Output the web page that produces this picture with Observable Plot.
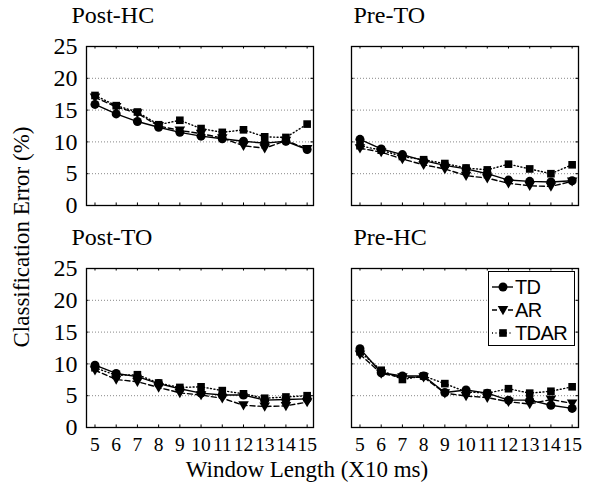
<!DOCTYPE html>
<html><head><meta charset="utf-8">
<script src="https://cdn.jsdelivr.net/npm/d3@7"></script>
<script src="https://cdn.jsdelivr.net/npm/@observablehq/plot@0.6"></script>
<style>
body{margin:0;background:#fff}
#wrap{position:relative;width:591px;height:489px;font-family:"Liberation Serif","Times New Roman",serif;color:#000}
.lab{position:absolute;white-space:nowrap;line-height:1}
</style></head><body>
<div id="wrap"></div>
<script>
const windows = [5, 6, 7, 8, 9, 10, 11, 12, 13, 14, 15];
const xTicks = [5, 6, 7, 8, 9, 10, 11, 12, 13, 14, 15];
const yTicks = [0, 5, 10, 15, 20, 25];
const gridValues = [5, 10, 15, 20];
const panelNames = ["Post-HC", "Pre-TO", "Post-TO", "Pre-HC"];
const panelCols = [0, 1, 0, 1];
const panelRows = [0, 0, 1, 1];
const seriesNames = ["TD", "AR", "TDAR"];

const postHC_TD   = [15.9, 14.4, 13.2, 12.3, 11.5, 10.9, 10.5, 10.1, 9.8, 10.1, 8.8];
const postHC_AR   = [17.0, 15.5, 14.5, 12.5, 11.8, 11.3, 10.6, 9.4, 9.0, 10.2, 8.9];
const postHC_TDAR = [17.3, 15.7, 14.7, 12.7, 13.4, 12.1, 11.5, 11.9, 10.8, 10.7, 12.8];

const preTO_TD   = [10.4, 8.9, 8.0, 7.05, 6.3, 5.75, 5.0, 4.0, 3.8, 3.7, 3.9];
const preTO_AR   = [9.0, 8.4, 7.3, 6.4, 5.75, 4.7, 4.3, 3.5, 3.1, 3.0, 3.8];
const preTO_TDAR = [9.4, 8.7, 7.7, 7.2, 6.6, 5.9, 5.6, 6.5, 5.75, 5.0, 6.4];

const postTO_TD   = [9.8, 8.5, 8.0, 6.9, 6.1, 5.4, 5.1, 5.1, 4.3, 4.4, 4.5];
const postTO_AR   = [9.0, 7.55, 7.2, 6.3, 5.45, 5.1, 4.6, 3.5, 3.3, 3.4, 4.0];
const postTO_TDAR = [9.4, 8.2, 8.3, 7.0, 6.3, 6.4, 5.8, 5.3, 4.6, 4.8, 5.0];

const preHC_TD   = [12.4, 8.6, 8.1, 8.1, 5.5, 5.9, 5.4, 4.3, 4.3, 3.5, 3.0];
const preHC_AR   = [11.5, 8.5, 7.9, 7.9, 5.4, 4.95, 4.7, 4.05, 3.7, 4.4, 3.8];
const preHC_TDAR = [11.9, 9.0, 7.55, 8.1, 6.9, 5.6, 5.4, 6.1, 5.4, 5.7, 6.4];

const panelSeries = [
  [postHC_TD, postHC_AR, postHC_TDAR],
  [preTO_TD, preTO_AR, preTO_TDAR],
  [postTO_TD, postTO_AR, postTO_TDAR],
  [preHC_TD, preHC_AR, preHC_TDAR]
];

// long table built from the arrays
const rows = [];
panelNames.forEach((p, pi) => {
  seriesNames.forEach((s, si) => {
    windows.forEach((w, wi) => {
      rows.push({panel: p, col: panelCols[pi], row: panelRows[pi], series: s, x: w, y: panelSeries[pi][si][wi]});
    });
  });
});
const panels = panelNames.map((p, i) => ({name: p, col: panelCols[i], row: panelRows[i]}));

const triDown = {
  draw(ctx, size) {
    const r = Math.sqrt(size / Math.PI);
    const hw = r * 1.15, top = -r * 0.85, bot = r * 1.15;
    ctx.moveTo(-hw, top); ctx.lineTo(hw, top); ctx.lineTo(0, bot); ctx.closePath();
  }
};

const style = {
  TD:   {dash: null,  symbol: "circle", r: 4.5},
  AR:   {dash: "5,3", symbol: triDown,  r: 4.6},
  TDAR: {dash: "1,2.5", symbol: "square", r: 4.3}
};

const serif = "Liberation Serif, Times New Roman, serif";
const seriesMarks = [];
["TDAR", "AR", "TD"].forEach(s => {
  const d = rows.filter(r => r.series === s);
  seriesMarks.push(Plot.line(d, {x: "x", y: "y", fx: "col", fy: "row", stroke: "black", strokeWidth: 1.4, strokeDasharray: style[s].dash}));
  seriesMarks.push(Plot.dot(d, {x: "x", y: "y", fx: "col", fy: "row", fill: "black", stroke: "none", symbol: style[s].symbol, r: style[s].r}));
});

const chart = Plot.plot({
  width: 591, height: 489,
  marginLeft: 86, marginRight: 12, marginTop: 45.5, marginBottom: 61.5,
  style: {fontFamily: serif, background: "white", color: "black", overflow: "visible"},
  fx: {domain: [0, 1], paddingInner: 0.143, paddingOuter: 0, axis: null},
  fy: {domain: [0, 1], paddingInner: 0.283, paddingOuter: 0, axis: null},
  x: {domain: [4.6, 15.3]},
  y: {domain: [0, 25]},
  marks: [
    Plot.ruleY(gridValues, {stroke: "#888", strokeWidth: 1, strokeDasharray: "1,2"}),
    Plot.ruleX(xTicks, {x: d => d, y1: 0, y2: 0.4, stroke: "black", strokeWidth: 1}),
    Plot.ruleX(xTicks, {x: d => d, y1: 25, y2: 24.6, stroke: "black", strokeWidth: 1}),
    Plot.ruleY(yTicks, {y: d => d, x1: 4.6, x2: 4.72, stroke: "black", strokeWidth: 1}),
    Plot.ruleY(yTicks, {y: d => d, x1: 15.3, x2: 15.18, stroke: "black", strokeWidth: 1}),
    ...seriesMarks,
    Plot.frame({stroke: "black", strokeWidth: 1.3}),
    Plot.axisX({ticks: xTicks, anchor: "bottom", facetAnchor: "bottom", tickSize: 0, tickPadding: 10, fontSize: 19.5, label: null, tickFormat: d => String(d)}),
    Plot.axisY({ticks: yTicks, anchor: "left", facetAnchor: "left", tickSize: 0, tickPadding: 9, fontSize: 24, label: null, tickFormat: d => String(d)}),
    Plot.text(panels.filter(p => p.col === 0), {fx: "col", fy: "row", text: "name", frameAnchor: "top-left", textAnchor: "start", lineAnchor: "middle", dx: -15, dy: -31, fontSize: 24}),
    Plot.text(panels.filter(p => p.col === 1), {fx: "col", fy: "row", text: "name", frameAnchor: "top-left", textAnchor: "start", lineAnchor: "middle", dx: 2, dy: -31, fontSize: 24})
  ]
});

const wrap = document.getElementById("wrap");
wrap.appendChild(chart);

// axis titles
const yl = document.createElement("div");
yl.className = "lab";
yl.textContent = "Classification Error (%)";
yl.style.cssText = "left:21px;top:237px;font-size:23px;transform:translate(-50%,-50%) rotate(-90deg);";
wrap.appendChild(yl);
const xl = document.createElement("div");
xl.className = "lab";
xl.textContent = "Window Length (X10 ms)";
xl.style.cssText = "left:307px;top:469px;font-size:23px;transform:translate(-50%,-50%);";
wrap.appendChild(xl);

// legend
const ns = "http://www.w3.org/2000/svg";
const lg = document.createElementNS(ns, "svg");
lg.setAttribute("width", 88); lg.setAttribute("height", 76);
lg.style.cssText = "position:absolute;left:488px;top:271px;overflow:visible";
const box = document.createElementNS(ns, "rect");
box.setAttribute("x", 0.5); box.setAttribute("y", 0.5); box.setAttribute("width", 86); box.setAttribute("height", 74);
box.setAttribute("fill", "white"); box.setAttribute("stroke", "black"); box.setAttribute("stroke-width", 1);
lg.appendChild(box);
seriesNames.forEach((s, i) => {
  const cy = 16 + i * 23;
  const ln = document.createElementNS(ns, "line");
  ln.setAttribute("x1", 4); ln.setAttribute("x2", 25); ln.setAttribute("y1", cy); ln.setAttribute("y2", cy);
  ln.setAttribute("stroke", "black"); ln.setAttribute("stroke-width", 1.4);
  if (style[s].dash) ln.setAttribute("stroke-dasharray", style[s].dash);
  lg.appendChild(ln);
  const sym = document.createElementNS(ns, "path");
  const symType = typeof style[s].symbol === "string" ? (style[s].symbol === "circle" ? d3.symbolCircle : d3.symbolSquare) : style[s].symbol;
  sym.setAttribute("d", d3.symbol(symType, Math.PI * style[s].r * style[s].r)());
  sym.setAttribute("transform", `translate(15,${cy})`);
  sym.setAttribute("fill", "black");
  lg.appendChild(sym);
  const t = document.createElementNS(ns, "text");
  t.setAttribute("x", 27); t.setAttribute("y", cy); t.setAttribute("dy", "0.36em");
  t.setAttribute("font-family", "Liberation Sans, Arial, sans-serif");
  t.setAttribute("font-size", 20); t.setAttribute("letter-spacing", "-0.6");
  t.textContent = s;
  lg.appendChild(t);
});
wrap.appendChild(lg);
</script>
</body></html>
